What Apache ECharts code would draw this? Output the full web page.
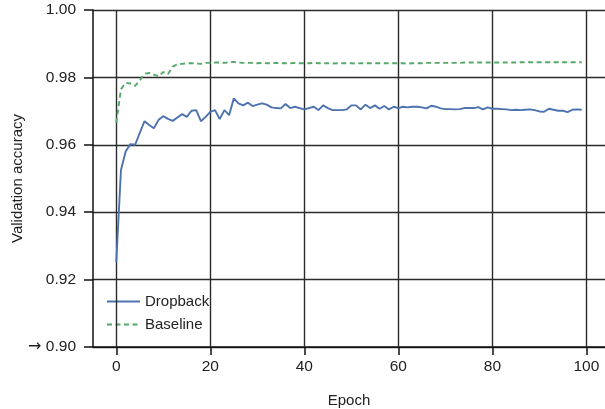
<!DOCTYPE html>
<html>
<head>
<meta charset="utf-8">
<script src="https://cdn.jsdelivr.net/npm/echarts@6/dist/echarts.min.js"></script>
<style>
  html, body { margin: 0; padding: 0; background: #fff; }
  #main { width: 605px; height: 409px; }
</style>
</head>
<body>
<div id="main"></div>
<script>
// validation accuracy per epoch
var dropback = [
    0.9252, 0.9525, 0.9580, 0.9602, 0.9600, 0.9635, 0.9670, 0.9659, 0.9649, 0.9674,
    0.9685, 0.9677, 0.9671, 0.9681, 0.9691, 0.9683, 0.9701, 0.9703, 0.9670, 0.9683,
    0.9698, 0.9703, 0.9676, 0.9703, 0.9688, 0.9738, 0.9723, 0.9717, 0.9725, 0.9715,
    0.9719, 0.9723, 0.9719, 0.9711, 0.9709, 0.9708, 0.9721, 0.9709, 0.9713, 0.9709,
    0.9705, 0.9709, 0.9713, 0.9703, 0.9717, 0.9709, 0.9703, 0.9703, 0.9703, 0.9705,
    0.9717, 0.9717, 0.9705, 0.9719, 0.9709, 0.9717, 0.9707, 0.9715, 0.9705, 0.9713,
    0.9709, 0.9713, 0.9711, 0.9713, 0.9713, 0.9711, 0.9708, 0.9716, 0.9713, 0.9708,
    0.9706, 0.9706, 0.9705, 0.9706, 0.9709, 0.9709, 0.9709, 0.9712, 0.9705, 0.9711,
    0.9707, 0.9707, 0.9706, 0.9705, 0.9703, 0.9704, 0.9703, 0.9704, 0.9705, 0.9703,
    0.9699, 0.9698, 0.9707, 0.9704, 0.9701, 0.9701, 0.9697, 0.9704, 0.9705, 0.9704
];
var baseline = [
    0.9665, 0.9765, 0.9784, 0.9782, 0.9775, 0.9791, 0.9811, 0.9813, 0.9808, 0.9803,
    0.9816, 0.9810, 0.9832, 0.9839, 0.9840, 0.9842, 0.9842, 0.9841, 0.9840, 0.9843,
    0.9843, 0.9844, 0.9844, 0.9843, 0.9845, 0.9846, 0.9844, 0.9843, 0.9843, 0.9843,
    0.9842, 0.9843, 0.9842, 0.9842, 0.9843, 0.9842, 0.9842, 0.9842, 0.9843, 0.9842,
    0.9842, 0.9842, 0.9843, 0.9842, 0.9842, 0.9842, 0.9841, 0.9842, 0.9842, 0.9842,
    0.9842, 0.9841, 0.9842, 0.9842, 0.9842, 0.9842, 0.9842, 0.9842, 0.9842, 0.9842,
    0.9842, 0.9842, 0.9841, 0.9842, 0.9842, 0.9842, 0.9843, 0.9843, 0.9843, 0.9843,
    0.9843, 0.9843, 0.9843, 0.9843, 0.9844, 0.9844, 0.9844, 0.9844, 0.9844, 0.9844,
    0.9844, 0.9844, 0.9844, 0.9844, 0.9844, 0.9844, 0.9845, 0.9845, 0.9845, 0.9845,
    0.9845, 0.9845, 0.9845, 0.9845, 0.9845, 0.9845, 0.9845, 0.9845, 0.9845, 0.9845
];
var epochs = dropback.map(function (v, i) { return i; });
var xTicks = [0, 20, 40, 60, 80, 100];

var font = '"Liberation Sans", Arial, sans-serif';
var gridColor = '#2b2b2b';
var textColor = '#222';

function pairs(arr) {
    return arr.map(function (v, i) { return [epochs[i], v]; });
}

var myChart = echarts.init(document.getElementById('main'), null, {renderer: 'canvas'});
var option = {
    animation: false,
    backgroundColor: '#fff',
    grid: {left: 93, right: 0, top: 10, bottom: 62, containLabel: false, outerBoundsMode: 'none'},
    legend: {
        orient: 'vertical',
        left: 101,
        top: 289,
        itemWidth: 33,
        itemHeight: 14,
        itemGap: 8,
        itemStyle: {opacity: 0},
        textStyle: {fontFamily: font, fontSize: 15, color: textColor},
        data: ['Dropback', 'Baseline']
    },
    xAxis: {
        type: 'value',
        min: -4.95,
        max: 103.95,
        name: 'Epoch',
        nameLocation: 'middle',
        nameGap: 46,
        nameMoveOverlap: false,
        nameTextStyle: {fontFamily: font, fontSize: 15, color: textColor},
        axisLine: {show: true, onZero: false, lineStyle: {color: '#111', width: 1.5}},
        axisTick: {show: true, customValues: xTicks, length: 8, lineStyle: {color: '#111', width: 1.5}},
        axisLabel: {customValues: xTicks, margin: 12, fontFamily: font, fontSize: 15.5, color: textColor},
        splitLine: {show: false}
    },
    yAxis: {
        type: 'value',
        min: 0.90,
        max: 1.00,
        interval: 0.02,
        name: 'Validation accuracy',
        nameLocation: 'middle',
        nameGap: 68,
        nameMoveOverlap: false,
        nameTextStyle: {fontFamily: font, fontSize: 15, color: textColor},
        axisLine: {show: true, onZero: false, lineStyle: {color: '#111', width: 1.5}},
        axisTick: {show: true, length: 9, lineStyle: {color: '#111', width: 1.5}},
        axisLabel: {
            margin: 17,
            fontFamily: font,
            fontSize: 15.5,
            color: textColor,
            formatter: function (v) {
                var s = v.toFixed(2);
                return Math.abs(v - 0.90) < 1e-9 ? '{arrow|\u2192} ' + s : s;
            },
            rich: {
                arrow: {fontFamily: 'DejaVu Sans', fontSize: 16, color: textColor}
            }
        },
        splitLine: {show: true, lineStyle: {color: gridColor, width: 1.4}}
    },
    series: [
        {
            name: 'Dropback',
            type: 'line',
            data: pairs(dropback),
            showSymbol: false,
            symbol: 'none',
            z: 5,
            lineStyle: {color: '#4c72b0', width: 1.9},
            itemStyle: {color: '#4c72b0'},
            markLine: {
                silent: true,
                symbol: 'none',
                label: {show: false},
                lineStyle: {color: gridColor, width: 1.4, type: 'solid'},
                data: xTicks.map(function (t) { return {xAxis: t}; })
            }
        },
        {
            name: 'Baseline',
            type: 'line',
            data: pairs(baseline),
            showSymbol: false,
            symbol: 'none',
            z: 5,
            lineStyle: {color: '#55a868', width: 1.9, type: [5, 3.5]},
            itemStyle: {color: '#55a868'}
        }
    ]
};
myChart.setOption(option);
</script>
</body>
</html>
